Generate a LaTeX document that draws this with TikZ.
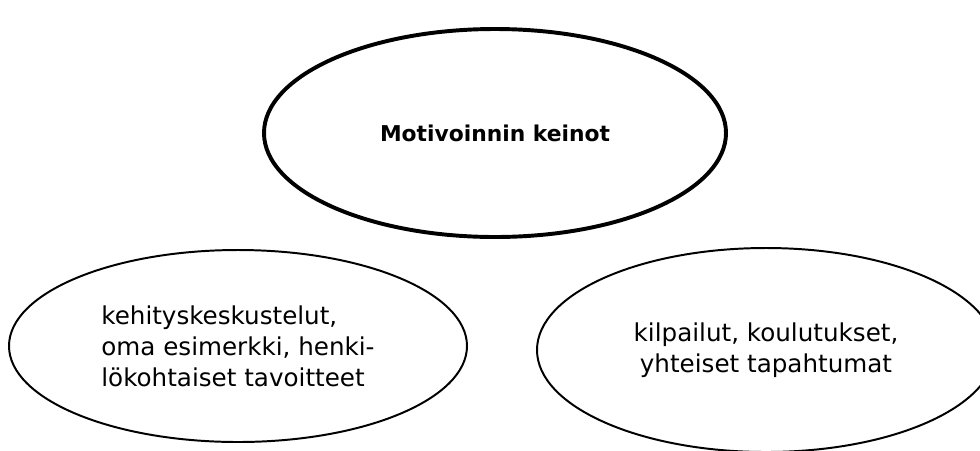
\documentclass[tikz,border=0pt]{standalone}
\usepackage{fontspec}
\setmainfont{DejaVu Sans}
\usetikzlibrary{shapes.geometric,positioning}
\tikzset{
  pallo/.style={
    shape = ellipse,
    draw,
    line width = 1.4pt,
    inner sep = 0pt,
    font = \fontsize{17.5}{22}\selectfont
  },
  isopallo/.style={
    pallo,
    line width = 2.8pt,
    font = \fontsize{15.5}{22}\selectfont\bfseries
  },
}

\begin{document}
\begin{tikzpicture}[x=0.025cm,y=-0.025cm]
		  \useasboundingbox (0,0) rectangle (980,450);
		  \node[isopallo, minimum width=462*0.025cm, minimum height=208*0.025cm] (keinot) at (495,133) {Motivoinnin keinot};
		  \node[pallo, minimum width=458*0.025cm, minimum height=192*0.025cm, align=left] (kehitys) at (238,346)
		    {kehityskeskustelut,\\oma esimerkki, henki-\\lökohtaiset tavoitteet};
		  \node[pallo, minimum width=458*0.025cm, minimum height=204*0.025cm, align=center] (kilpailu) at (766,350)
		    {kilpailut, koulutukset,\\yhteiset tapahtumat};
		\end{tikzpicture}
\end{document}
